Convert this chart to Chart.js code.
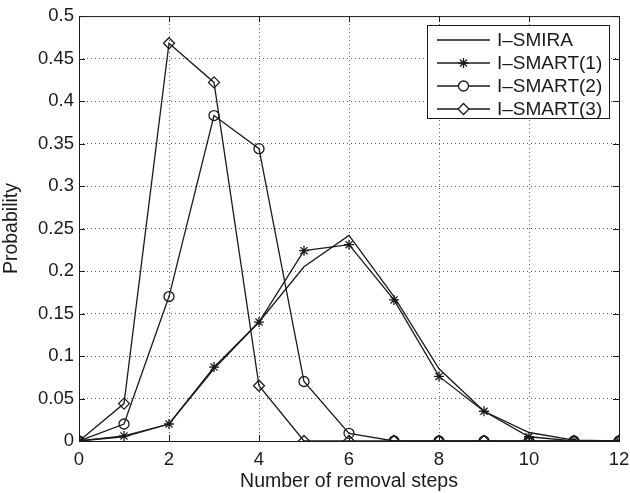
<!DOCTYPE html>
<html>
<head>
<meta charset="utf-8">
<script src="https://cdn.jsdelivr.net/npm/chart.js@4/dist/chart.umd.min.js"></script>
<style>
  html, body { margin: 0; padding: 0; background: #fff; }
  #wrap { width: 630px; height: 493px; }
</style>
</head>
<body>
<div id="wrap"><canvas id="probs"></canvas></div>
<script>
const steps = [0, 1, 2, 3, 4, 5, 6, 7, 8, 9, 10, 11, 12];
const smira = [0, 0.005, 0.02, 0.085, 0.14, 0.205, 0.242, 0.17, 0.085, 0.035, 0.01, 0.001, 0];
const smart1 = [0, 0.006, 0.02, 0.087, 0.14, 0.224, 0.231, 0.166, 0.076, 0.035, 0.005, 0, 0];
const smart2 = [0, 0.02, 0.17, 0.383, 0.344, 0.07, 0.009, 0, 0, 0, 0, 0, 0];
const smart3 = [0, 0.044, 0.468, 0.422, 0.065, 0, 0, 0, 0, 0, 0, 0, 0];
const yTicks = ['0', '0.05', '0.1', '0.15', '0.2', '0.25', '0.3', '0.35', '0.4', '0.45', '0.5'];

const FONT = "'Liberation Sans', Arial, Helvetica, sans-serif";
const INK = '#1a1a1a';

function pts(arr) {
  return arr.map((v, i) => ({ x: steps[i], y: v }));
}

// box around plot + inward ticks like matlab
const axesBox = {
  id: 'axesBox',
  afterDatasetsDraw(chart) {
    const { ctx, chartArea: { left, top, right, bottom }, scales: { x, y } } = chart;
    ctx.save();
    ctx.strokeStyle = INK;
    ctx.lineWidth = 1;
    ctx.strokeRect(left + 0.5, top + 0.5, right - left, bottom - top);
    ctx.beginPath();
    steps.filter(s => s % 2 === 0).forEach(s => {
      const px = Math.round(x.getPixelForValue(s)) + 0.5;
      ctx.moveTo(px, bottom); ctx.lineTo(px, bottom - 6);
      ctx.moveTo(px, top); ctx.lineTo(px, top + 6);
    });
    yTicks.forEach(t => {
      const py = Math.round(y.getPixelForValue(parseFloat(t))) + 0.5;
      ctx.moveTo(left, py); ctx.lineTo(left + 6, py);
      ctx.moveTo(right, py); ctx.lineTo(right - 6, py);
    });
    ctx.stroke();
    ctx.restore();
  }
};

// legend box inside the axes, top right
const boxLegend = {
  id: 'boxLegend',
  afterDraw(chart) {
    const { ctx } = chart;
    const bx = 427, by = 25, bw = 182, bh = 93;
    ctx.save();
    ctx.fillStyle = '#fff';
    ctx.fillRect(bx, by, bw, bh);
    ctx.strokeStyle = INK;
    ctx.lineWidth = 1;
    ctx.strokeRect(bx + 0.5, by + 0.5, bw, bh);
    ctx.font = '19px ' + FONT;
    ctx.textBaseline = 'middle';
    chart.data.datasets.forEach((ds, i) => {
      const yy = by + 15 + i * 23;
      ctx.strokeStyle = INK;
      ctx.lineWidth = 1.3;
      ctx.beginPath();
      ctx.moveTo(bx + 10, yy);
      ctx.lineTo(bx + 63, yy);
      ctx.stroke();
      if (ds.pointRadius > 0) {
        ctx.fillStyle = '#fff';
        Chart.helpers.drawPoint(ctx, {
          pointStyle: ds.pointStyle, radius: ds.pointRadius, rotation: 0, borderWidth: 1.3
        }, bx + 36.5, yy);
      }
      ctx.fillStyle = INK;
      ctx.fillText(ds.label, bx + 70, yy + 1);
    });
    ctx.restore();
  }
};

const base = {
  borderColor: INK,
  backgroundColor: 'rgba(255,255,255,0)',
  borderWidth: 1.3,
  pointBorderWidth: 1.3,
  tension: 0
};

new Chart(document.getElementById('probs'), {
  type: 'line',
  plugins: [axesBox, boxLegend],
  data: {
    datasets: [
      { ...base, label: 'I\u2013SMIRA', data: pts(smira), pointRadius: 0 },
      { ...base, label: 'I\u2013SMART(1)', data: pts(smart1), pointStyle: 'star', pointRadius: 5 },
      { ...base, label: 'I\u2013SMART(2)', data: pts(smart2), pointStyle: 'circle', pointRadius: 5 },
      { ...base, label: 'I\u2013SMART(3)', data: pts(smart3), pointStyle: 'rectRot', pointRadius: 5.5 }
    ]
  },
  options: {
    responsive: true,
    maintainAspectRatio: false,
    animation: false,
    layout: { padding: { left: 0, top: 15, right: 0, bottom: 0 } },
    plugins: {
      legend: { display: false },
      tooltip: { enabled: false }
    },
    scales: {
      x: {
        type: 'linear',
        min: 0,
        max: 12,
        afterFit(scale) {
          scale.height = 52;
          scale.paddingLeft = 0;
          scale.paddingRight = 11;
        },
        border: { display: false, dash: [1, 3] },
        grid: {
          drawTicks: false,
          color: '#555',
          lineWidth: 1
        },
        ticks: {
          stepSize: 2,
          padding: 8,
          color: INK,
          font: { family: FONT, size: 18.5 }
        },
        title: {
          display: true,
          text: 'Number of removal steps',
          color: INK,
          padding: { top: 0, bottom: 0 },
          font: { family: FONT, size: 19.5 }
        }
      },
      y: {
        min: 0,
        max: 0.5,
        afterFit(scale) { scale.width = 79; },
        afterBuildTicks(scale) {
          scale.ticks = yTicks.map(t => ({ value: parseFloat(t) }));
        },
        border: { display: false, dash: [1, 3] },
        grid: {
          drawTicks: false,
          color: '#555',
          lineWidth: 1
        },
        ticks: {
          padding: 5,
          color: INK,
          callback: (v, i) => yTicks[i],
          font: { family: FONT, size: 18.5 }
        },
        title: {
          display: true,
          text: 'Probability',
          color: INK,
          padding: { top: 0, bottom: 0 },
          font: { family: FONT, size: 19.5 }
        }
      }
    }
  }
});
</script>
</body>
</html>
